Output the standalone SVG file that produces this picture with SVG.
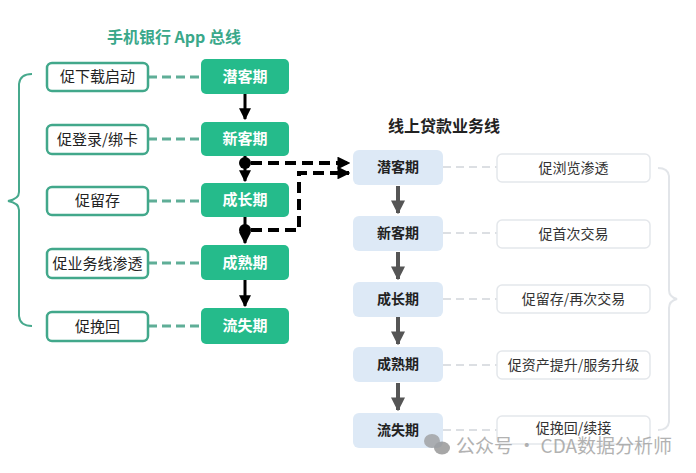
<svg xmlns="http://www.w3.org/2000/svg" width="696" height="473" viewBox="0 0 696 473">
<defs>
<style>
.t{font-family:"Noto Sans CJK SC","Liberation Sans",sans-serif;}
.gbox{fill:#25bb8b;}
.gtxt{fill:#ffffff;font-size:15px;font-weight:bold;text-anchor:middle;}
.wbox{fill:#ffffff;stroke:#42a88b;stroke-width:2.5;}
.wtxt{fill:#222222;font-size:15px;text-anchor:middle;}
.bbox{fill:#dde9f6;}
.btxt{fill:#222222;font-size:14px;font-weight:bold;text-anchor:middle;}
.rbox{fill:#ffffff;stroke:#e4e7eb;stroke-width:1.5;}
.rtxt{fill:#333333;font-size:14px;text-anchor:middle;}
.gdash{stroke:#5fae97;stroke-width:3;stroke-dasharray:9 5;fill:none;}
.ldash{stroke:#dcdfe3;stroke-width:2;stroke-dasharray:8 5;fill:none;}
.blk{stroke:#000;stroke-width:3;fill:none;}
.bdash{stroke:#000;stroke-width:4;stroke-dasharray:11 6;fill:none;}
.garr{stroke:#555;stroke-width:4;fill:none;}
</style>
<marker id="ab" viewBox="0 0 10 10" refX="9" refY="5" markerWidth="4" markerHeight="4" orient="auto" markerUnits="strokeWidth"><path d="M0,0 L10,5 L0,10 z" fill="#000"/></marker>
<marker id="abd" viewBox="0 0 10 10" refX="9" refY="5" markerWidth="3.2" markerHeight="3.2" orient="auto" markerUnits="strokeWidth"><path d="M0,0 L10,5 L0,10 z" fill="#000"/></marker>
<marker id="ag" viewBox="0 0 10 10" refX="9" refY="5" markerWidth="3.5" markerHeight="3.5" orient="auto" markerUnits="strokeWidth"><path d="M0,0 L10,5 L0,10 z" fill="#555"/></marker>
</defs>
<rect width="696" height="473" fill="#ffffff"/>

<text class="t" x="174" y="43" fill="#3aa88a" font-size="16" font-weight="bold" text-anchor="middle">手机银行 App 总线</text>
<text class="t" x="444" y="132" fill="#222" font-size="16" font-weight="bold" text-anchor="middle">线上贷款业务线</text>

<g id="connectors">
<path class="gdash" d="M148,77 H201"/>
<path class="gdash" d="M148,139 H201"/>
<path class="gdash" d="M148,201 H201"/>
<path class="gdash" d="M148,263 H201"/>
<path class="gdash" d="M148,326 H201"/>
<path class="blk" d="M245,94 V119" marker-end="url(#ab)"/>
<path class="blk" d="M245,156 V181" marker-end="url(#ab)"/>
<path class="blk" d="M245,217 V243" marker-end="url(#ab)"/>
<path class="blk" d="M245,280 V306" marker-end="url(#ab)"/>
<circle cx="245" cy="163" r="6" fill="#000"/>
<circle cx="245" cy="230" r="6" fill="#000"/>
<path class="bdash" d="M251,163 H349" marker-end="url(#abd)"/>
<path class="bdash" d="M251,230 H299 V173 H349" marker-end="url(#abd)"/>
<path class="ldash" d="M443,167 H497"/>
<path class="ldash" d="M443,233 H497"/>
<path class="ldash" d="M443,299 H497"/>
<path class="ldash" d="M443,365 H497"/>
<path class="ldash" d="M443,430 H497"/>
<path class="garr" d="M398,186 V213" marker-end="url(#ag)"/>
<path class="garr" d="M398,252 V279" marker-end="url(#ag)"/>
<path class="garr" d="M398,317 V344" marker-end="url(#ag)"/>
<path class="garr" d="M398,383 V410" marker-end="url(#ag)"/>
<path d="M32,74 Q20,74 19,84 V192 Q19,199 8,201 Q19,203 19,210 V316 Q20,326 32,326" stroke="#47a98d" stroke-width="2" fill="none"/>
<path d="M658,168 Q668,168 669,176 V290 Q669,297 677,299 Q669,301 669,308 V422 Q668,430 658,430" stroke="#e2e5e9" stroke-width="2" fill="none"/>
</g>

<g id="app-qianke"><rect class="gbox" x="201" y="59" width="88" height="35" rx="5"/><text class="t gtxt" x="245" y="82">潜客期</text></g>
<g id="app-xinke"><rect class="gbox" x="201" y="122" width="88" height="34" rx="5"/><text class="t gtxt" x="245" y="144">新客期</text></g>
<g id="app-chengzhang"><rect class="gbox" x="201" y="183" width="88" height="34" rx="5"/><text class="t gtxt" x="245" y="205">成长期</text></g>
<g id="app-chengshu"><rect class="gbox" x="201" y="245" width="88" height="35" rx="5"/><text class="t gtxt" x="245" y="268">成熟期</text></g>
<g id="app-liushi"><rect class="gbox" x="201" y="308" width="88" height="36" rx="5"/><text class="t gtxt" x="245" y="331">流失期</text></g>

<g id="app-a1"><rect class="wbox" x="47" y="63" width="101" height="28" rx="5"/><text class="t wtxt" x="97.5" y="82">促下载启动</text></g>
<g id="app-a2"><rect class="wbox" x="47" y="125" width="101" height="29" rx="5"/><text class="t wtxt" x="97.5" y="145">促登录/绑卡</text></g>
<g id="app-a3"><rect class="wbox" x="47" y="187" width="101" height="28" rx="5"/><text class="t wtxt" x="97.5" y="206">促留存</text></g>
<g id="app-a4"><rect class="wbox" x="47" y="249" width="101" height="29" rx="5"/><text class="t wtxt" x="97.5" y="269">促业务线渗透</text></g>
<g id="app-a5"><rect class="wbox" x="47" y="312" width="101" height="29" rx="5"/><text class="t wtxt" x="97.5" y="332">促挽回</text></g>

<g id="loan-qianke"><rect class="bbox" x="353" y="150" width="90" height="35" rx="6"/><text class="t btxt" x="398" y="172">潜客期</text></g>
<g id="loan-xinke"><rect class="bbox" x="353" y="216" width="90" height="35" rx="6"/><text class="t btxt" x="398" y="238">新客期</text></g>
<g id="loan-chengzhang"><rect class="bbox" x="353" y="282" width="90" height="35" rx="6"/><text class="t btxt" x="398" y="304">成长期</text></g>
<g id="loan-chengshu"><rect class="bbox" x="353" y="347" width="90" height="35" rx="6"/><text class="t btxt" x="398" y="369">成熟期</text></g>
<g id="loan-liushi"><rect class="bbox" x="353" y="413" width="90" height="35" rx="6"/><text class="t btxt" x="398" y="435">流失期</text></g>

<g id="loan-a1"><rect class="rbox" x="497" y="154" width="153" height="28" rx="5"/><text class="t rtxt" x="573.5" y="173">促浏览渗透</text></g>
<g id="loan-a2"><rect class="rbox" x="497" y="220" width="153" height="28" rx="5"/><text class="t rtxt" x="573.5" y="239">促首次交易</text></g>
<g id="loan-a3"><rect class="rbox" x="497" y="285" width="153" height="28" rx="5"/><text class="t rtxt" x="573.5" y="304">促留存/再次交易</text></g>
<g id="loan-a4"><rect class="rbox" x="497" y="351" width="153" height="28" rx="5"/><text class="t rtxt" x="573.5" y="370">促资产提升/服务升级</text></g>
<g id="loan-a5"><rect class="rbox" x="497" y="416" width="153" height="28" rx="5"/><text class="t rtxt" x="573.5" y="433">促挽回/续接</text></g>

<g id="watermark" opacity="0.75">
<ellipse cx="432" cy="441" rx="8" ry="7" fill="#9a9a9a"/>
<ellipse cx="442" cy="448" rx="8" ry="6.5" fill="#8a8a8a"/>
<text class="t" x="456" y="453" fill="#999999" font-size="19">公众号 · CDA数据分析师</text>
</g>
</svg>
